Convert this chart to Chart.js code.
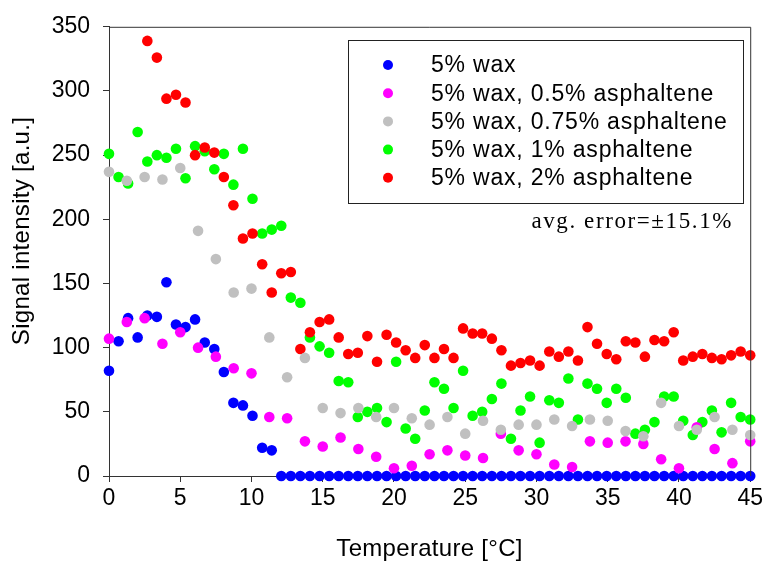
<!DOCTYPE html>
<html>
<head>
<meta charset="utf-8">
<script src="https://cdn.jsdelivr.net/npm/chart.js@4"></script>
<style>
  html, body { margin: 0; padding: 0; background: #fff; }
  #wrap { width: 766px; height: 564px; }
</style>
</head>
<body>
<div id="wrap"><canvas id="c" width="766" height="564"></canvas></div>
<script>
// Temperatures (°C) of the dense and the coarse measurement runs
const fineTemps = [0, 0.67, 1.34, 2.01, 2.69, 3.36, 4.03, 4.70, 5.37, 6.04, 6.72, 7.39, 8.06, 8.73, 9.40, 10.07,
  10.75, 11.42, 12.09, 12.76, 13.43, 14.10, 14.78, 15.45, 16.12, 16.79, 17.46, 18.13, 18.81, 19.48, 20.15, 20.82,
  21.49, 22.16, 22.84, 23.51, 24.18, 24.85, 25.52, 26.19, 26.87, 27.54, 28.21, 28.88, 29.55, 30.22, 30.90, 31.57,
  32.24, 32.91, 33.58, 34.25, 34.93, 35.60, 36.27, 36.94, 37.61, 38.28, 38.96, 39.63, 40.30, 40.97, 41.64, 42.31,
  42.99, 43.66, 44.33, 45.00];
const coarseTemps = [0, 1.25, 2.5, 3.75, 5, 6.25, 7.5, 8.75, 10, 11.25, 12.5, 13.75, 15, 16.25, 17.5, 18.75, 20,
  21.25, 22.5, 23.75, 25, 26.25, 27.5, 28.75, 30, 31.25, 32.5, 33.75, 35, 36.25, 37.5, 38.75, 40, 41.25, 42.5,
  43.75, 45];

// Signal intensity [a.u.]
const wax5 = [82, 105, 123, 108, 125, 124, 151, 118, 116, 122, 104, 99, 81, 57, 55, 47, 22, 20,
  0, 0, 0, 0, 0, 0, 0, 0, 0, 0, 0, 0, 0, 0, 0, 0, 0, 0, 0, 0, 0, 0, 0, 0, 0, 0, 0, 0, 0, 0, 0, 0,
  0, 0, 0, 0, 0, 0, 0, 0, 0, 0, 0, 0, 0, 0, 0, 0, 0, 0];
const wax5Asph05 = [107, 120, 123, 103, 112, 100, 93, 84, 80, 46, 45, 27, 23, 30, 21, 15, 6, 8, 17, 20, 16, 14,
  33, 20, 17, 9, 7, 27, 26, 27, 25, 13, 6, 38, 21, 10, 27];
const wax5Asph075 = [237, 230, 233, 231, 240, 191, 169, 143, 146, 108, 77, 92, 53, 49, 53, 46, 53, 45, 40, 46,
  33, 43, 36, 40, 40, 44, 39, 44, 43, 35, 31, 57, 39, 36, 46, 36, 32];
const wax5Asph1 = [251, 233, 228, 268, 245, 250, 248, 255, 232, 257, 253, 239, 251, 227, 255, 216, 189, 192, 195,
  139, 135, 108, 101, 96, 74, 73, 46, 50, 53, 42, 89, 37, 29, 51, 73, 68, 53, 82, 47, 50, 60, 72, 29, 51, 62, 26,
  59, 57, 76, 44, 72, 68, 57, 68, 61, 33, 36, 42, 62, 62, 43, 32, 42, 51, 34, 57, 46, 44];
const wax5Asph2 = [null, null, null, null, 339, 326, 294, 297, 291, 250, 256, 252, 233, 211, 185, 189, 165, 143,
  158, 159, 99, 112, 120, 122, 108, 95, 96, 109, 89, 110, 104, 98, 92, 102, 92, 99, 92, 115, 111, 111, 107, 98,
  86, 88, 90, 86, 97, 93, 97, 90, 116, 103, 95, 91, 105, 104, 93, 106, 105, 112, 90, 93, 95, 92, 91, 94, 97, 94];

const seriesLabels = ['5% wax', '5% wax, 0.5% asphaltene', '5% wax, 0.75% asphaltene',
  '5% wax, 1% asphaltene', '5% wax, 2% asphaltene'];
const seriesColors = ['#0000ff', '#ff00ff', '#c0c0c0', '#00ff00', '#ff0000'];

const xTickValues = [0, 5, 10, 15, 20, 25, 30, 35, 40, 45];
const yTickValues = [0, 50, 100, 150, 200, 250, 300, 350];

const xTitle = 'Temperature [°C]';
const yTitle = 'Signal intensity [a.u.]';
const errorNote = 'avg. error=±15.1%';

const SANS = '"Liberation Sans", Arial, sans-serif';
const SERIF = '"Liberation Serif", "Times New Roman", serif';
const AXIS_COLOR = '#333333';

function points(xs, ys) {
  return xs.map((x, i) => ({ x: x, y: ys[i] }));
}

function makeSet(i, xs, ys, order) {
  return {
    label: seriesLabels[i],
    data: points(xs, ys),
    backgroundColor: seriesColors[i],
    borderColor: seriesColors[i],
    pointRadius: 5.3,
    pointBorderWidth: 0,
    pointHoverRadius: 5.3,
    order: order,
    clip: false
  };
}

function spaced(ctx, px) {
  if ('letterSpacing' in ctx) ctx.letterSpacing = px + 'px';
}

// Top/right frame, axis titles, boxed legend and error note
const decorations = {
  id: 'decorations',
  afterDraw(chart) {
    const ctx = chart.ctx;
    const a = chart.chartArea;
    ctx.save();

    ctx.strokeStyle = AXIS_COLOR;
    ctx.lineWidth = 1;
    ctx.beginPath();
    ctx.moveTo(a.left, a.top + 0.5);
    ctx.lineTo(a.right + 0.5, a.top + 0.5);
    ctx.lineTo(a.right + 0.5, a.bottom);
    ctx.stroke();

    ctx.fillStyle = '#000';
    ctx.font = '24px ' + SANS;
    ctx.textAlign = 'center';
    ctx.textBaseline = 'middle';
    spaced(ctx, 0.3);
    ctx.fillText(xTitle, (a.left + a.right) / 2, 549);

    ctx.save();
    ctx.translate(22, 231);
    ctx.rotate(-Math.PI / 2);
    ctx.fillText(yTitle, 0, 0);
    ctx.restore();

    // legend box
    ctx.fillStyle = '#fff';
    ctx.fillRect(348, 40, 396, 164);
    ctx.strokeStyle = '#222';
    ctx.strokeRect(348.5, 40.5, 395, 163);
    ctx.textAlign = 'left';
    ctx.textBaseline = 'middle';
    ctx.font = '23px ' + SANS;
    spaced(ctx, 0.8);
    seriesLabels.forEach((label, i) => {
      const y = 65 + i * 28.2;
      ctx.fillStyle = seriesColors[i];
      ctx.beginPath();
      ctx.arc(388, y, 5, 0, Math.PI * 2);
      ctx.fill();
      ctx.fillStyle = '#000';
      ctx.fillText(label, 431, y + 1);
    });

    ctx.font = '23px ' + SERIF;
    ctx.textAlign = 'right';
    ctx.textBaseline = 'alphabetic';
    ctx.fillStyle = '#000';
    spaced(ctx, 1.6);
    ctx.fillText(errorNote, 733, 228);
    spaced(ctx, 0);

    ctx.restore();
  }
};

const axisGrid = {
  drawOnChartArea: false,
  drawTicks: true,
  tickLength: 6,
  tickColor: AXIS_COLOR,
  tickWidth: 1,
  color: AXIS_COLOR
};

new Chart(document.getElementById('c'), {
  type: 'scatter',
  data: {
    datasets: [
      makeSet(0, fineTemps, wax5, 4),
      makeSet(1, coarseTemps, wax5Asph05, 1),
      makeSet(2, coarseTemps, wax5Asph075, 0),
      makeSet(3, fineTemps, wax5Asph1, 3),
      makeSet(4, fineTemps, wax5Asph2, 2)
    ]
  },
  options: {
    responsive: false,
    animation: false,
    devicePixelRatio: 1,
    layout: { padding: { left: 0, top: 26, right: 14, bottom: 0 } },
    plugins: { legend: { display: false }, tooltip: { enabled: false } },
    scales: {
      x: {
        type: 'linear',
        min: 0,
        max: 45,
        afterBuildTicks: s => { s.ticks = xTickValues.map(v => ({ value: v })); },
        afterFit: s => { s.height = 88; },
        grid: axisGrid,
        border: { color: AXIS_COLOR, width: 1 },
        ticks: { autoSkip: false, maxRotation: 0, padding: 3, color: '#000', font: { family: SANS, size: 23 } }
      },
      y: {
        type: 'linear',
        min: 0,
        max: 350,
        afterBuildTicks: s => { s.ticks = yTickValues.map(v => ({ value: v })); },
        afterFit: s => { s.width = 109; },
        grid: axisGrid,
        border: { color: AXIS_COLOR, width: 1 },
        ticks: { autoSkip: false, padding: 13, color: '#000', font: { family: SANS, size: 23 } }
      }
    }
  },
  plugins: [decorations]
});
</script>
</body>
</html>
